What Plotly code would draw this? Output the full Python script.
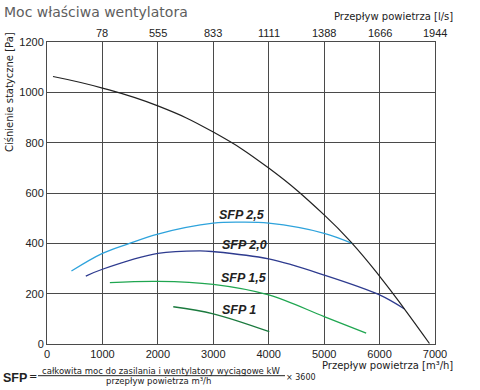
import plotly.graph_objects as go

# Fan curve (black)
fan_x = [108, 1000, 2000, 3000, 4000, 5000, 5505, 6016, 6450, 6900]
fan_y = [1063, 1017, 946, 842, 699, 513, 400, 265, 139, 2]

# SFP curves
sfp25_x = [441, 1000, 1465, 2000, 3000, 3500, 4000, 5000, 5505]
sfp25_y = [290, 360, 398, 437, 480, 484, 480, 440, 400]
sfp20_x = [700, 1000, 2000, 2761, 3000, 4000, 5000, 6000, 6450]
sfp20_y = [270, 297, 360, 370, 367, 338, 274, 195, 139]
sfp15_x = [1134, 2000, 3000, 4000, 5000, 5758]
sfp15_y = [244, 249, 237, 195, 109, 43]
sfp1_x = [2278, 3000, 4010]
sfp1_y = [148, 120, 49]

sfp_labels = ["SFP 2,5", "SFP 2,0", "SFP 1,5", "SFP 1"]
sfp_label_x = [3520, 3557, 3557, 3457]
sfp_label_y = [511, 393, 261, 135]

x_ticks = [0, 1000, 2000, 3000, 4000, 5000, 6000, 7000]
top_tickvals = [1000, 2000, 3000, 4000, 5000, 6000, 7000]
top_ticktext = ["78", "555", "833", "1111", "1388", "1666", "1944"]
y_ticks = [0, 200, 400, 600, 800, 1000, 1200]

fig = go.Figure()

series = [
    (sfp25_x, sfp25_y, "#2ea3dc"),
    (sfp20_x, sfp20_y, "#2e3b8f"),
    (sfp15_x, sfp15_y, "#1fa650"),
    (sfp1_x, sfp1_y, "#1b7a3e"),
]
for xs, ys, c in series:
    fig.add_trace(go.Scatter(x=xs, y=ys, mode="lines",
                             line=dict(color=c, width=1.3, shape="spline", smoothing=1.0),
                             showlegend=False, hoverinfo="skip"))

fig.add_trace(go.Scatter(x=fan_x, y=fan_y, mode="lines",
                         line=dict(color="#222222", width=1.2, shape="spline", smoothing=1.3),
                         showlegend=False, hoverinfo="skip"))

for t, lx, ly in zip(sfp_labels, sfp_label_x, sfp_label_y):
    fig.add_annotation(x=lx, y=ly, text="<b><i>" + t + "</i></b>", showarrow=False,
                       font=dict(family="Liberation Sans, Arial", size=12.5, color="#222222"))

# page pixel -> paper (plot spans page x 47..435, y 42..344)
def px(xp):
    return (xp - 47) / 388.0
def py(yp):
    return (344 - yp) / 302.0

for tv, tt in zip(top_tickvals, top_ticktext):
    fig.add_annotation(x=tv, xref="x", yref="paper", y=py(33), text=tt, showarrow=False,
                       xanchor="center", yanchor="middle",
                       font=dict(family="Liberation Sans, Arial", size=11, color="#222222"))

grid = "#4a4a4a"
fig.update_layout(
    width=480, height=390,
    margin=dict(l=47, r=45, t=42, b=46),
    paper_bgcolor="white", plot_bgcolor="white",
    font=dict(family="Liberation Sans, Arial", size=11, color="#222222"),
    xaxis=dict(range=[0, 7000], tickvals=x_ticks, showgrid=True, gridcolor=grid, gridwidth=1,
               zeroline=False, showline=True, linecolor=grid, linewidth=1, mirror=True,
               ticks="", tickfont=dict(size=11)),
    yaxis=dict(range=[0, 1200], tickvals=y_ticks, showgrid=True, gridcolor=grid, gridwidth=1,
               zeroline=False, showline=True, linecolor=grid, linewidth=1, mirror=True,
               ticks="", tickfont=dict(size=11)),
)

txt_font = "DejaVu Sans, Verdana"
fig.add_annotation(xref="paper", yref="paper", x=px(2), y=py(12), xanchor="left", yanchor="middle",
                   text="Moc właściwa wentylatora", showarrow=False,
                   font=dict(family=txt_font, size=14, color="#5e5e5e"))
fig.add_annotation(xref="paper", yref="paper", x=px(455), y=py(17), xanchor="right", yanchor="middle",
                   text="Przepływ powietrza [l/s]", showarrow=False,
                   font=dict(family=txt_font, size=10, color="#222222"))
fig.add_annotation(xref="paper", yref="paper", x=px(455), y=py(365), xanchor="right", yanchor="middle",
                   text="Przepływ powietrza [m³/h]", showarrow=False,
                   font=dict(family=txt_font, size=10, color="#222222"))
fig.add_annotation(xref="paper", yref="paper", x=px(10), y=py(92), xanchor="center", yanchor="middle",
                   text="Ciśnienie statyczne [Pa]", showarrow=False, textangle=-90,
                   font=dict(family=txt_font, size=10, color="#222222"))

fig.add_annotation(xref="paper", yref="paper", x=px(1), y=py(378), xanchor="left", yanchor="middle",
                   text="<b>SFP</b>", showarrow=False,
                   font=dict(family="Liberation Sans, Arial", size=12.5, color="#222222"))
fig.add_annotation(xref="paper", yref="paper", x=px(33), y=py(376.5), xanchor="center", yanchor="middle",
                   text="=", showarrow=False, font=dict(family=txt_font, size=10, color="#222222"))
fig.add_annotation(xref="paper", yref="paper", x=px(161), y=py(370.5), xanchor="center", yanchor="middle",
                   text="całkowita moc do zasilania i wentylatory wyciągowe kW", showarrow=False,
                   font=dict(family=txt_font, size=8.5, color="#222222"))
fig.add_annotation(xref="paper", yref="paper", x=px(158), y=py(381), xanchor="center", yanchor="middle",
                   text="przepływ powietrza m³/h", showarrow=False,
                   font=dict(family=txt_font, size=8.5, color="#222222"))
fig.add_annotation(xref="paper", yref="paper", x=px(301), y=py(377.5), xanchor="center", yanchor="middle",
                   text="× 3600", showarrow=False,
                   font=dict(family=txt_font, size=8, color="#222222"))
fig.add_shape(type="line", xref="paper", yref="paper", x0=px(38), x1=px(285), y0=py(375.7), y1=py(375.7),
              line=dict(color="#222222", width=1))

fig.write_html("out.html", config={"displayModeBar": False},
               post_script="document.body.style.margin='0';")
